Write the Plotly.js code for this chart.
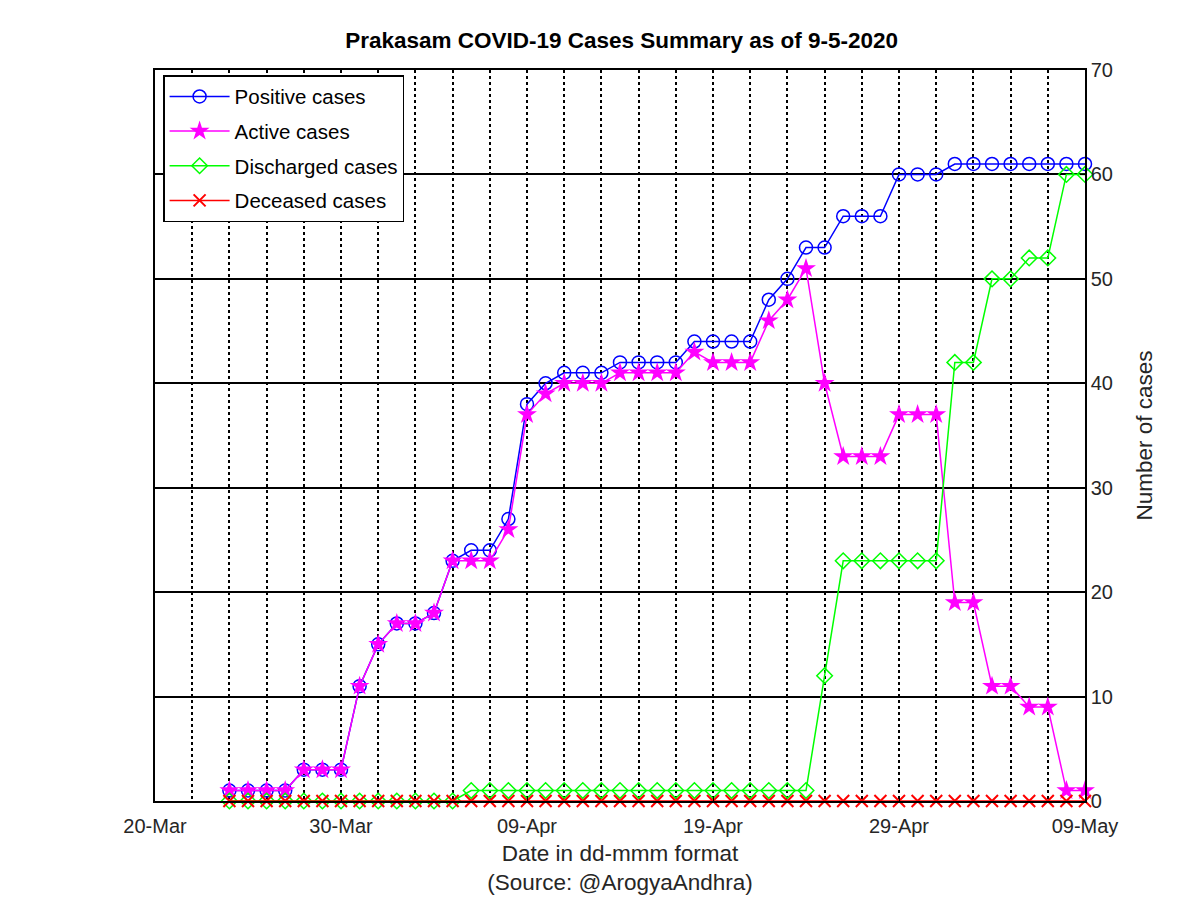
<!DOCTYPE html>
<html>
<head>
<meta charset="utf-8">
<script src="https://cdn.plot.ly/plotly-3.0.1.min.js"></script>
<style>
  body { margin: 0; background: white; }
  #chart { width: 1200px; height: 898px; }
</style>
</head>
<body>
<div id="chart"></div>
<script>
let dates = [
  "2020-03-24", "2020-03-25", "2020-03-26", "2020-03-27", "2020-03-28", "2020-03-29", "2020-03-30", "2020-03-31",
  "2020-04-01", "2020-04-02", "2020-04-03", "2020-04-04", "2020-04-05", "2020-04-06", "2020-04-07", "2020-04-08",
  "2020-04-09", "2020-04-10", "2020-04-11", "2020-04-12", "2020-04-13", "2020-04-14", "2020-04-15", "2020-04-16",
  "2020-04-17", "2020-04-18", "2020-04-19", "2020-04-20", "2020-04-21", "2020-04-22", "2020-04-23", "2020-04-24",
  "2020-04-25", "2020-04-26", "2020-04-27", "2020-04-28", "2020-04-29", "2020-04-30", "2020-05-01", "2020-05-02",
  "2020-05-03", "2020-05-04", "2020-05-05", "2020-05-06", "2020-05-07", "2020-05-08", "2020-05-09"
];

let positive = [1, 1, 1, 1, 3, 3, 3, 11, 15, 17, 17, 18, 23, 24, 24, 27,
  38, 40, 41, 41, 41, 42, 42, 42, 42, 44, 44, 44, 44, 48, 50, 53,
  53, 56, 56, 56, 60, 60, 60, 61, 61, 61, 61, 61, 61, 61, 61];

let active = [1, 1, 1, 1, 3, 3, 3, 11, 15, 17, 17, 18, 23, 23, 23, 26,
  37, 39, 40, 40, 40, 41, 41, 41, 41, 43, 42, 42, 42, 46, 48, 51,
  40, 33, 33, 33, 37, 37, 37, 19, 19, 11, 11, 9, 9, 1, 1];

let discharged = [0, 0, 0, 0, 0, 0, 0, 0, 0, 0, 0, 0, 0, 1, 1, 1,
  1, 1, 1, 1, 1, 1, 1, 1, 1, 1, 1, 1, 1, 1, 1, 1,
  12, 23, 23, 23, 23, 23, 23, 42, 42, 50, 50, 52, 52, 60, 60];

let deceased = [0, 0, 0, 0, 0, 0, 0, 0, 0, 0, 0, 0, 0, 0, 0, 0,
  0, 0, 0, 0, 0, 0, 0, 0, 0, 0, 0, 0, 0, 0, 0, 0,
  0, 0, 0, 0, 0, 0, 0, 0, 0, 0, 0, 0, 0, 0, 0];

let tickDates = ["2020-03-20", "2020-03-30", "2020-04-09", "2020-04-19", "2020-04-29", "2020-05-09"];
let tickLabels = ["20-Mar", "30-Mar", "09-Apr", "19-Apr", "29-Apr", "09-May"];

let fontFam = "Liberation Sans, Arial, sans-serif";

let tracePos = {
  x: dates, y: positive, type: 'scatter', mode: 'lines+markers',
  name: 'Positive cases', legendgroup: 'p', cliponaxis: false,
  line: { color: 'rgb(0,0,255)', width: 1.5 },
  marker: { symbol: 'circle-open', size: 13, color: 'rgb(0,0,255)', line: { width: 1.5 } }
};
let traceAct = {
  x: dates, y: active, type: 'scatter', mode: 'lines+markers',
  name: 'Active cases', legendgroup: 'a', cliponaxis: false,
  line: { color: 'rgb(255,0,255)', width: 1.5 },
  marker: { symbol: 'star', size: 15, color: 'rgb(255,0,255)' }
};
let traceDis = {
  x: dates, y: discharged, type: 'scatter', mode: 'lines+markers',
  name: 'Discharged cases', legendgroup: 'd', cliponaxis: false,
  line: { color: 'rgb(0,255,0)', width: 1.5 },
  marker: { symbol: 'diamond-open', size: 12, color: 'rgb(0,255,0)', line: { width: 1.5 } }
};
let traceDec = {
  x: dates, y: deceased, type: 'scatter', mode: 'lines+markers',
  name: 'Deceased cases', legendgroup: 'x', cliponaxis: false,
  line: { color: 'rgb(255,0,0)', width: 1.5 },
  marker: { symbol: 'x-thin-open', size: 12, color: 'rgb(255,0,0)', line: { width: 2, color: 'rgb(255,0,0)' } }
};

let layout = {
  width: 1200, height: 898,
  paper_bgcolor: 'white', plot_bgcolor: 'white',
  font: { family: fontFam, size: 20, color: '#262626' },
  margin: { l: 155, r: 115, t: 70, b: 97 },
  title: {
    text: '<b>Prakasam COVID-19 Cases Summary as of 9-5-2020</b>',
    font: { family: fontFam, size: 22.5, color: 'black' },
    x: 0.518, xanchor: 'center', y: 0.955, yanchor: 'middle'
  },
  showlegend: true,
  legend: {
    x: 0.0087, y: 0.993, xanchor: 'left', yanchor: 'top',
    bgcolor: 'white', bordercolor: 'black', borderwidth: 1.5,
    font: { family: fontFam, size: 20.5, color: 'black' },
    tracegroupgap: 5,
    itemwidth: 60
  },
  xaxis: {
    type: 'date',
    range: ['2020-03-20', '2020-05-09'],
    tickmode: 'array', tickvals: tickDates, ticktext: tickLabels,
    ticks: 'inside', ticklen: 5, tickcolor: 'black',
    ticklabelstandoff: 6,
    showline: true, linecolor: 'black', linewidth: 1.5, mirror: true,
    showgrid: true, gridcolor: 'black', griddash: 'dot', gridwidth: 1.5,
    minor: { dtick: 2 * 86400000, tick0: '2020-03-20', showgrid: true, gridcolor: 'black', griddash: 'dot', gridwidth: 1.5, ticks: '' },
    zeroline: false,
    tickfont: { size: 20, color: '#262626' },
    title: { text: 'Date in dd-mmm format<br>(Source: @ArogyaAndhra)', font: { size: 22.5, color: '#262626' }, standoff: 9 }
  },
  yaxis: {
    side: 'right',
    range: [0, 70], dtick: 10,
    ticks: 'inside', ticklen: 5, tickcolor: 'black',
    showline: true, linecolor: 'black', linewidth: 1.5, mirror: true,
    showgrid: true, gridcolor: 'black', gridwidth: 1.5,
    zeroline: false,
    tickfont: { size: 20, color: '#262626' },
    title: { text: 'Number of cases', font: { size: 22.5, color: '#262626' }, standoff: 24 }
  }
};

Plotly.newPlot('chart', [tracePos, traceAct, traceDis, traceDec], layout, { displayModeBar: false });
</script>
</body>
</html>
